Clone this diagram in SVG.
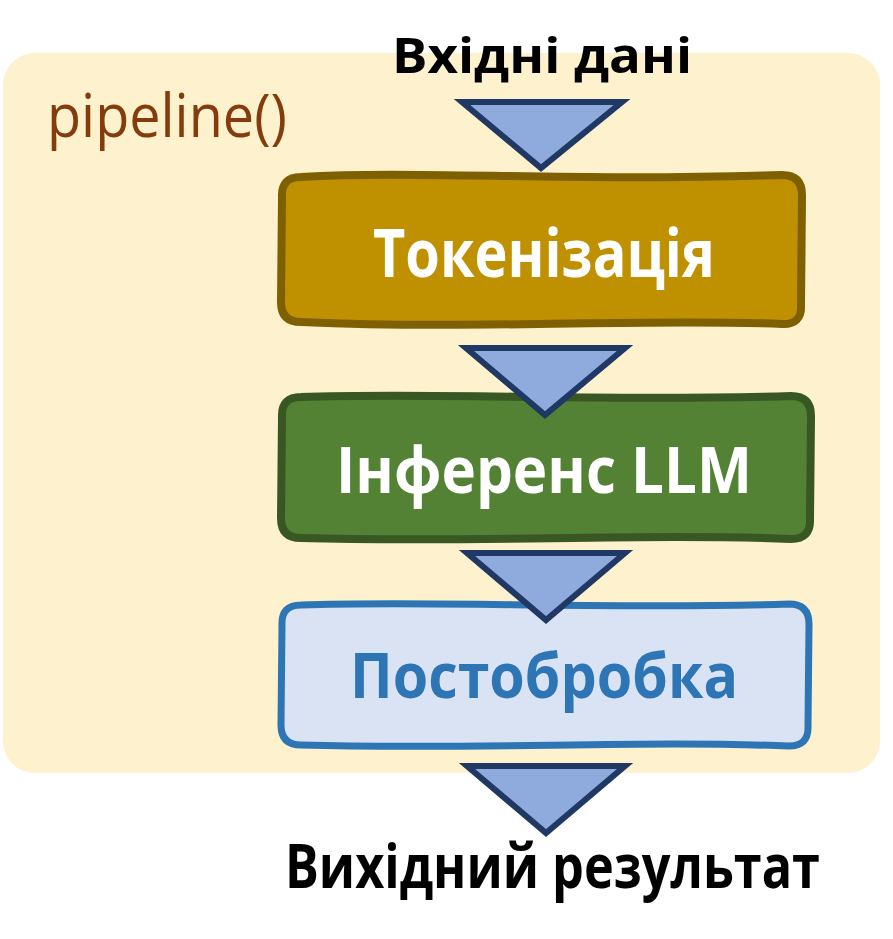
<svg xmlns="http://www.w3.org/2000/svg" width="893" height="939" viewBox="0 0 893 939">
  <style>
    .title { font-family: "Open Sans", "Liberation Sans", sans-serif; font-weight: 700; fill: #000000; }
    .label { font-family: "Open Sans", "Liberation Sans", sans-serif; font-weight: 700; text-anchor: middle; }
    .box { stroke-linejoin: round; }
    .arrow { fill: #8FAADC; stroke: #1F3864; stroke-width: 6; stroke-linejoin: miter; }
  </style>
  <rect x="0" y="0" width="893" height="939" fill="#FFFFFF"/>
  <g id="panel">
    <rect x="3" y="53" width="877" height="720" rx="32" ry="32" fill="#FEF1CD"/>
    <text x="47" y="137" font-family="'Open Sans', 'Liberation Sans', sans-serif" font-size="60" fill="#843C0C" textLength="240" lengthAdjust="spacingAndGlyphs">pipeline()</text>
  </g>
  <g id="input">
    <text class="title" x="392" y="73" font-size="48" textLength="300" lengthAdjust="spacingAndGlyphs">Вхідні дані</text>
  </g>
  <g id="tokenization">
    <path class="box" d="M 301 177 C 420 170, 560 182, 782 175 Q 802 175 802 195 L 801 305 Q 802 325 782 324 C 640 318, 480 330, 301 322 Q 281 322 281 302 L 282 197 Q 281 177 301 177 Z" fill="#BF9000" stroke="#7F6000" stroke-width="8"/>
    <text class="label" x="544" y="277" font-size="66" fill="#FFFFFF" textLength="342" lengthAdjust="spacingAndGlyphs">Токенізація</text>
  </g>
  <g id="inference">
    <path class="box" d="M 301 397 C 440 392, 600 402, 791 396 Q 811 396 811 416 L 810 519 Q 811 539 791 539 C 640 533, 480 543, 301 538 Q 281 538 281 518 L 282 417 Q 281 397 301 397 Z" fill="#548235" stroke="#385723" stroke-width="8"/>
    <text class="label" x="544" y="493" font-size="64" fill="#FFFFFF" textLength="416" lengthAdjust="spacingAndGlyphs">Інференс LLM</text>
  </g>
  <g id="postprocessing">
    <path class="box" d="M 301 605 C 440 600, 600 610, 789 604 Q 809 604 809 624 L 808 726 Q 809 746 789 746 C 640 740, 480 750, 301 745 Q 281 745 281 725 L 282 625 Q 281 605 301 605 Z" fill="#DAE3F3" stroke="#2E75B6" stroke-width="7"/>
    <text class="label" x="544" y="698" font-size="63" fill="#2E75B6" textLength="388" lengthAdjust="spacingAndGlyphs">Постобробка</text>
  </g>
  <g id="output">
    <text class="title" x="285" y="888" font-size="60" textLength="535" lengthAdjust="spacingAndGlyphs">Вихідний результат</text>
  </g>
  <g id="connectors">
    <polygon class="arrow" points="462,102 622,102 541,168"/>
    <polygon class="arrow" points="466,348 625,348 545,415"/>
    <polygon class="arrow" points="467,553 625,553 546,620"/>
    <polygon class="arrow" points="467,766 625,766 546,833"/>
  </g>
</svg>
